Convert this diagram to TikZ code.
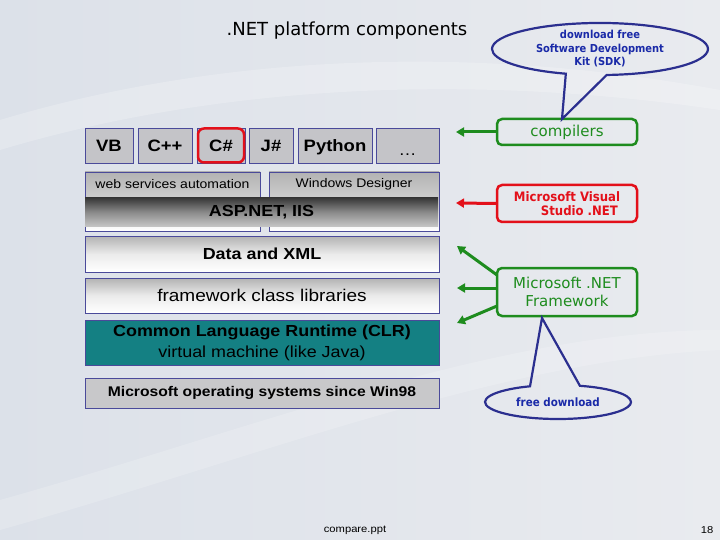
\documentclass[tikz,border=0pt]{standalone}
\usepackage{fontspec}
\setsansfont[FakeStretch=1.12]{Liberation Sans}
\newfontfamily\titlefont{DejaVu Sans}
\newfontfamily\labfont{DejaVu Sans Condensed}
\usetikzlibrary{arrows.meta,shapes.callouts,calc}
\definecolor{boxblue}{HTML}{4A4A9A}
\definecolor{langgray}{HTML}{C4C4C8}
\definecolor{clrteal}{HTML}{148083}
\definecolor{osgray}{HTML}{C8C8CA}
\definecolor{callblue}{HTML}{2B2F8F}
\definecolor{calltext}{HTML}{1A2AA8}
\definecolor{fwgreen}{HTML}{1E8C1E}
\definecolor{vsred}{HTML}{E3101A}
\definecolor{bgA}{HTML}{DCE1E9}
\definecolor{bgB}{HTML}{E9EBEF}
\tikzset{
  every node/.style={inner sep=0pt, outer sep=0pt},
  fs/.style={font=\sffamily\fontsize{#1}{#1}\selectfont},
  fsb/.style={font=\sffamily\bfseries\fontsize{#1}{#1}\selectfont},
  langbox/.style={draw=boxblue, line width=0.8pt, fill=langgray, minimum height=35pt, fsb=16.5, text height=12pt, text depth=0pt},
  gradbox/.style={draw=boxblue, line width=0.8pt, top color=black!30, bottom color=white, middle color=white!92!black},
  tagbox/.style={rounded corners=5pt, line width=2.5pt, align=center},
  arr/.style={line width=3pt, -{Triangle[length=8pt,width=9pt]}},
  callout/.style={ellipse callout, draw=callblue, line width=2.2pt, text=calltext, align=center},
}
\begin{document}
\begin{tikzpicture}[x=1pt,y=-1pt]
\useasboundingbox (0,0) rectangle (720,540);
% background
\shade[left color=bgA, right color=bgB] (0,0) rectangle (720,540);
\fill[white, opacity=0.22] (0,120) .. controls (200,60) and (450,40) .. (720,90) -- (720,110) .. controls (450,70) and (200,90) .. (0,150) -- cycle;
\fill[white, opacity=0.18] (0,500) .. controls (250,430) and (500,330) .. (720,330) -- (720,350) .. controls (500,360) and (250,460) .. (0,530) -- cycle;

% title
\node[font=\titlefont\fontsize{18}{18}\selectfont] (title) at (347,31) {.NET platform components};

% languages
\node[langbox, minimum width=48pt] (vb) at (109,145.5) {VB};
\node[langbox, minimum width=54pt] (cpp) at (165,145.5) {C++};
\node[langbox, minimum width=48pt] (cs) at (221,145.5) {C\#};
\node[draw=vsred, rounded corners=6pt, line width=2.5pt, minimum width=46pt, minimum height=34pt] (csr) at (221,145.5) {};
\node[langbox, minimum width=44pt] (js) at (271,145.5) {J\#};
\node[langbox, minimum width=74pt] (py) at (335,145.5) {Python};
\node[langbox, minimum width=63pt, font=\sffamily\fontsize{16}{16}\selectfont] (dots) at (407.5,145.5) {\raisebox{-4pt}{\dots}};

% row 2
\node[gradbox, minimum width=175pt, minimum height=59pt, top color=black!30, bottom color=white, middle color=black!18] (web) at (172.5,201.5) {};
\node[fs=12.5] (webl) at ($(web.north)+(0,12.5)$) {web services automation};
\node[gradbox, minimum width=170pt, minimum height=59pt, top color=black!30, bottom color=white, middle color=black!18] (win) at (354,201.5) {};
\node[fs=12.5] (winl) at ($(win.north)+(0,12.5)$) {Windows Designer};
\node[minimum width=353pt, minimum height=29pt, top color=black!78, bottom color=black!22, middle color=black!45, fsb=16] (asp) at (261.5,212.5) {ASP.NET, IIS};

% layers
\node[gradbox, minimum width=354pt, minimum height=36pt, fsb=16] (data) at (262,254) {Data and XML};
\node[gradbox, minimum width=354pt, minimum height=35pt, fs=17] (fcl) at (262,295.5) {framework class libraries};
\node[draw=boxblue, line width=0.8pt, fill=clrteal, minimum width=354pt, minimum height=45pt, align=center, font=\sffamily] (clr) at (262,342.5)
  {{\bfseries\fontsize{16}{16}\selectfont Common Language Runtime (CLR)}\\[5pt]{\fontsize{16}{16}\selectfont virtual machine (like Java)}};
\node[draw=boxblue, line width=0.8pt, fill=osgray, minimum width=354pt, minimum height=30pt, fsb=14] (os) at (262,393) {Microsoft operating systems since Win98};

% right side tags
\node[tagbox, draw=fwgreen, text=fwgreen, minimum width=140pt, minimum height=26pt, font=\titlefont\fontsize{15}{15}\selectfont] (comp) at (567,132) {\raisebox{3pt}{compilers}};
\node[tagbox, draw=vsred, text=vsred, minimum width=140pt, minimum height=37pt, align=left, font=\labfont\bfseries\fontsize{13}{14}\selectfont] (vs) at (567,203.5)
  {Microsoft Visual\\\hspace*{27pt}Studio .NET};
\node[tagbox, draw=fwgreen, text=fwgreen, minimum width=140pt, minimum height=48pt, font=\titlefont\fontsize{15}{18.5}\selectfont] (fw) at (567,292)
  {Microsoft .NET\\Framework};

% arrow ends
\coordinate (t1) at (456,132);
\coordinate (t2) at (456,203);
\coordinate (t3) at (457,246);
\coordinate (t4) at (457,288);
\coordinate (t5) at (457,323);
\draw[arr, fwgreen] (comp.west) -- (t1);
\draw[arr, vsred] (vs.west) -- (t2);
\draw[arr, fwgreen] ($(fw.west)+(0,-17)$) -- (t3);
\draw[arr, fwgreen] ($(fw.west)+(0,-4)$) -- (t4);
\draw[arr, fwgreen] ($(fw.west)+(0,14)$) -- (t5);

% callouts
\coordinate (p1) at (562,119);
\coordinate (p2) at (542,318);
\node[callout, minimum width=216pt, minimum height=52pt, callout absolute pointer={(p1)}, callout pointer arc=22, font=\labfont\bfseries\fontsize{11}{13.5}\selectfont] (sdk) at (600,49)
  {download free\\Software Development\\Kit (SDK)};
\node[callout, minimum width=146pt, minimum height=34pt, callout absolute pointer={(p2)}, callout pointer arc=40, font=\labfont\bfseries\fontsize{11.5}{13}\selectfont] (free) at (558,402)
  {free download};

% footer
\node[fs=10] (foot) at (355,530) {compare.ppt};
\node[fs=10] (page) at (707,530) {18};
\end{tikzpicture}
\end{document}
